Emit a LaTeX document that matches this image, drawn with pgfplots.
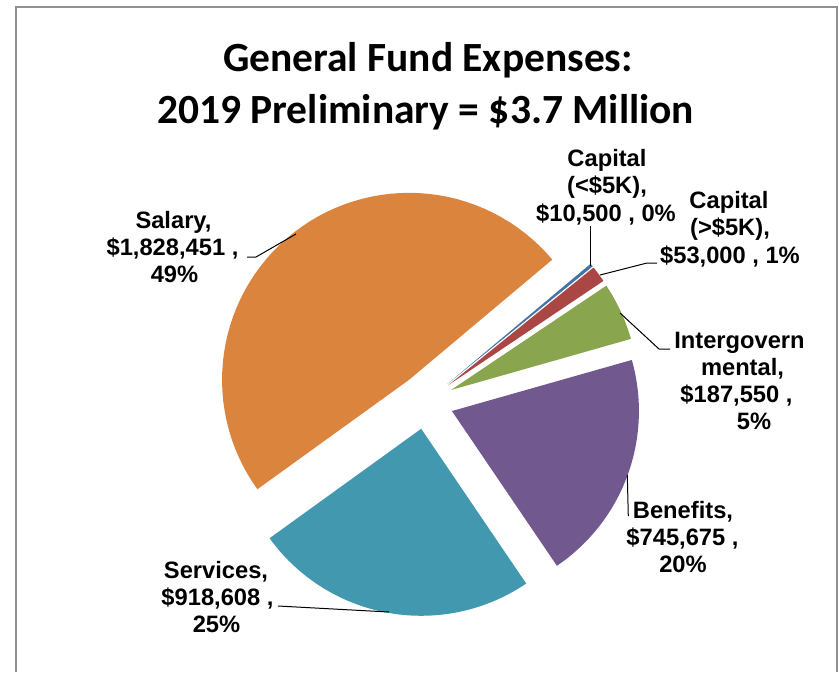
\documentclass[border=0pt]{standalone}
\usepackage{pgfplots}
\pgfplotsset{compat=1.18}
\usepackage{fontspec}
\setmainfont{Liberation Sans}
\newfontfamily\titlefont{Carlito}
\definecolor{cBlue}{HTML}{4572A7}
\definecolor{cRed}{HTML}{AA4643}
\definecolor{cGreen}{HTML}{89A54E}
\definecolor{cPurple}{HTML}{71588F}
\definecolor{cTeal}{HTML}{4198AF}
\definecolor{cOrange}{HTML}{DB843D}
\definecolor{frame}{HTML}{909090}
% values in thousands of dollars
\def\vCapS{10.5}
\def\vCapL{53}
\def\vInter{187.55}
\def\vBen{745.675}
\def\vServ{918.608}
\def\vSal{1828.451}
\pgfmathsetmacro\tot{\vCapS+\vCapL+\vInter+\vBen+\vServ+\vSal}
\def\cx{426}\def\cy{401.6}\def\R{187}\def\ex{27.6}
\xdef\cur{50}% first slice angle (clockwise from 12 o'clock)
\newcommand\slice[2]{%
  \pgfmathsetmacro\sspan{360*(#1/\tot)}%
  \pgfmathsetmacro\sA{\cur}%
  \pgfmathsetmacro\sB{\cur+\sspan}%
  \xdef\cur{\sB}%
  \pgfmathsetmacro\aA{90-\sB}%
  \pgfmathsetmacro\aB{90-\sA}%
  \pgfmathsetmacro\amid{90-(\sA+\sB)/2}%
  \pgfmathsetmacro\ax{\cx+\ex*cos(\amid)}%
  \pgfmathsetmacro\ay{\cy-\ex*sin(\amid)}%
  \edef\doslice{\noexpand\addplot[fill=#2, draw=none, domain=0:62, samples=63]
    ({\ax+\R*(x>0.5)*(x<61.5)*cos(\aA+(\aB-\aA)*(x-1)/60)},
     {\ay-\R*(x>0.5)*(x<61.5)*sin(\aA+(\aB-\aA)*(x-1)/60)});}%
  \doslice
}
\tikzset{lbl/.style={font=\fontsize{23.7}{27.2}\selectfont\bfseries, anchor=base, inner sep=0pt}}
\begin{document}
\begin{tikzpicture}
\begin{axis}[
  width=839pt, height=672pt, scale only axis,
  xmin=0, xmax=839, ymin=0, ymax=672, y dir=reverse,
  hide axis, clip=false]
\path (axis cs:0,0) rectangle (axis cs:839,672);
% frame
\addplot[frame, line width=2pt] coordinates {(16,672) (16,7) (837,7) (837,672)};
% slices
\slice{\vCapS}{cBlue}
\slice{\vCapL}{cRed}
\slice{\vInter}{cGreen}
\slice{\vBen}{cPurple}
\slice{\vServ}{cTeal}
\slice{\vSal}{cOrange}
% leader lines
\addplot[black, line width=1pt] coordinates {(247,257) (256,257) (296,234)};
\addplot[black, line width=1pt] coordinates {(590.5,226) (590.5,266)};
\addplot[black, line width=1pt] coordinates {(600,275) (647,263) (657,263)};
\addplot[black, line width=1pt] coordinates {(620,313) (659,349) (670,349)};
\addplot[black, line width=1pt] coordinates {(627.3,475) (628.3,516)};
\addplot[black, line width=1pt] coordinates {(278,606) (389,612)};
% title
\node[font=\titlefont\fontsize{41.5}{52}\selectfont\bfseries, anchor=base, inner sep=0pt] at (axis cs:428,71) {General Fund Expenses:};
\node[font=\titlefont\fontsize{41.5}{52}\selectfont\bfseries, anchor=base, inner sep=0pt] at (axis cs:425.6,123) {2019 Preliminary = \$3.7 Million};
% labels
\node[lbl] at (axis cs:173.5,228.3) {Salary,};
\node[lbl] at (axis cs:172.5,255.5) {\$1,828,451 ,};
\node[lbl] at (axis cs:174.5,282.7) {49\%};
\node[lbl] at (axis cs:607,166.5) {Capital};
\node[lbl] at (axis cs:607,193.7) {(<\$5K),};
\node[lbl] at (axis cs:606,221) {\$10,500 , 0\%};
\node[lbl] at (axis cs:729,208) {Capital};
\node[lbl] at (axis cs:730,235.5) {(>\$5K),};
\node[lbl] at (axis cs:730,263) {\$53,000 , 1\%};
\node[lbl] at (axis cs:739.5,348.3) {Intergovern};
\node[lbl] at (axis cs:742.5,375.3) {mental,};
\node[lbl] at (axis cs:736.5,402.5) {\$187,550 ,};
\node[lbl] at (axis cs:754,429.7) {5\%};
\node[lbl] at (axis cs:683,518) {Benefits,};
\node[lbl] at (axis cs:682.5,545.5) {\$745,675 ,};
\node[lbl] at (axis cs:683,572.7) {20\%};
\node[lbl] at (axis cs:216,578.3) {Services,};
\node[lbl] at (axis cs:217.5,605.5) {\$918,608 ,};
\node[lbl] at (axis cs:216.5,632.7) {25\%};
\end{axis}
\end{tikzpicture}
\end{document}
